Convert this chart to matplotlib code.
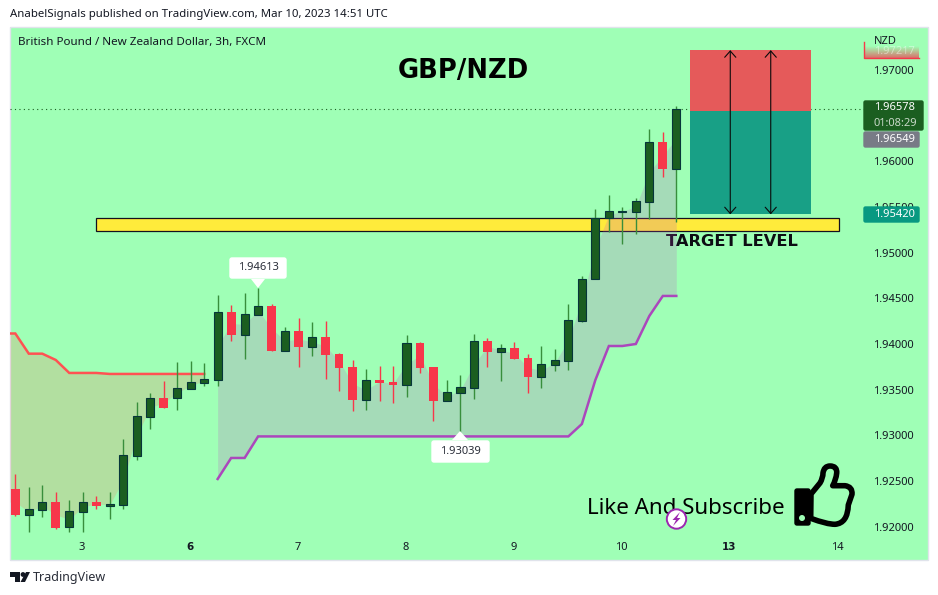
import numpy as np
import matplotlib
matplotlib.use("Agg")
import matplotlib.pyplot as plt
from matplotlib.patches import Rectangle, FancyBboxPatch, Polygon, Circle, PathPatch
from matplotlib.path import Path

plt.rcParams["font.family"] = ["Noto Sans", "DejaVu Sans"]

# 3h candles
opens = [1.92412, 1.92131, 1.92186, 1.92270, 1.91993, 1.92164, 1.92270, 1.92230, 1.92241, 1.92777,
         1.93204, 1.93409, 1.93412, 1.93511, 1.93576, 1.93609, 1.94351, 1.94102, 1.94321, 1.94416,
         1.93927, 1.94143, 1.93971, 1.94077, 1.93891, 1.93748, 1.93390, 1.93606, 1.93584, 1.93555,
         1.94011, 1.93748, 1.93379, 1.93467, 1.93522, 1.94033, 1.93916, 1.93956, 1.93847, 1.93642,
         1.93774, 1.93818, 1.94255, 1.94709, 1.95377, 1.95446, 1.95449, 1.95558, 1.96211, 1.95920]
closes = [1.92128, 1.92190, 1.92267, 1.91989, 1.92168, 1.92267, 1.92230, 1.92248, 1.92781, 1.93208,
          1.93406, 1.93303, 1.93515, 1.93581, 1.93614, 1.94347, 1.94099, 1.94325, 1.94413, 1.93924,
          1.94139, 1.93967, 1.94074, 1.93880, 1.93737, 1.93387, 1.93603, 1.93573, 1.93551, 1.94008,
          1.93737, 1.93376, 1.93471, 1.93526, 1.94030, 1.93913, 1.93953, 1.93836, 1.93639, 1.93778,
          1.93822, 1.94260, 1.94709, 1.95377, 1.95454, 1.95457, 1.95563, 1.96208, 1.95916, 1.96578]
highs = [1.92577, 1.92434, 1.92456, 1.92380, 1.92292, 1.92380, 1.92336, 1.92380, 1.92960, 1.93365,
         1.93464, 1.93595, 1.93803, 1.93814, 1.93792, 1.94537, 1.94427, 1.94559, 1.94613, 1.94438,
         1.94186, 1.94285, 1.94241, 1.94252, 1.93902, 1.93825, 1.93726, 1.93759, 1.93759, 1.94099,
         1.94022, 1.93748, 1.93606, 1.93661, 1.94110, 1.94066, 1.94000, 1.94022, 1.93891, 1.93978,
         1.93945, 1.94438, 1.94745, 1.95479, 1.95630, 1.95501, 1.95599, 1.96354, 1.96321, 1.96606]
lows = [1.92120, 1.91945, 1.92109, 1.91974, 1.91945, 1.91945, 1.92193, 1.92087, 1.92193, 1.92733,
        1.93069, 1.93303, 1.93278, 1.93511, 1.93540, 1.93540, 1.94033, 1.93836, 1.94321, 1.93924,
        1.93927, 1.93748, 1.93869, 1.93617, 1.93486, 1.93267, 1.93278, 1.93376, 1.93354, 1.93420,
        1.93683, 1.93157, 1.93379, 1.93039, 1.93398, 1.93748, 1.93595, 1.93836, 1.93464, 1.93518,
        1.93705, 1.93716, 1.94241, 1.94709, 1.95230, 1.95096, 1.95204, 1.95369, 1.95829, 1.95336]

# supertrend, bars 0-14 are the upper band, bars 15-49 the lower one
upper_band = [1.94115, 1.93894, 1.93894, 1.93825, 1.93683, 1.93683, 1.93683, 1.93672, 1.93672, 1.93672,
              1.93672, 1.93672, 1.93672, 1.93672, 1.93672]
lower_band = [1.92522, 1.92752, 1.92752] + [1.92988] * 24 + [1.93124, 1.93606, 1.93978, 1.93978,
                                                            1.94000, 1.94307, 1.94526, 1.94526]

day_bars = [5, 13, 21, 29, 37, 45, 53, 61]
day_labels = ["3", "6", "7", "8", "9", "10", "13", "14"]
bold_days = ["6", "13"]
price_ticks = [1.92, 1.925, 1.93, 1.935, 1.94, 1.945, 1.95, 1.955, 1.96, 1.97]

zone_low, zone_high = 1.95240, 1.95380
zone_bars = (5.98, 61.05)
pos_top, pos_entry, pos_bottom = 1.97217, 1.96549, 1.95420
pos_bars = (50, 59)
arrow_bars = [53, 56]

GREEN_BG = "#9fffb6"
BODY_GREEN = "#1b5e20"
EDGE_GREEN = "#06363a"
WICK_GREEN = "#388e3c"
RED = "#f7374a"

opens, closes, highs, lows = map(np.array, (opens, closes, highs, lows))
bars = np.arange(len(opens))
mids = (opens + closes) / 2
up = closes >= opens

fig = plt.figure(figsize=(9.38, 5.95), dpi=100, facecolor="white")

# page and panel, in pixels
page = fig.add_axes([0, 0, 1, 1], zorder=0)
page.set_xlim(0, 938)
page.set_ylim(595, 0)
page.axis("off")
page.add_patch(Rectangle((10, 27), 918, 533, fc=GREEN_BG, ec="#e0e3eb", lw=1))

# chart area covers pixels x 10-865, y 27-535
ax = fig.add_axes([10 / 938, 1 - 535 / 595, 855 / 938, 508 / 595], zorder=1)
ax.patch.set_alpha(0)
ax.set_xlim((10 - 15.3) / 13.49, (865 - 15.3) / 13.49)
ax.set_ylim(1.97 - 465 / 9133, 1.97 + 43 / 9133)
for s in ax.spines.values():
    s.set_visible(False)

ax.yaxis.tick_right()
ax.set_yticks(price_ticks)
ax.set_yticklabels([f"{p:.5f}" for p in price_ticks], fontsize=8, color="#131722")
ax.tick_params(axis="y", length=0, pad=6)
ax.set_xticks(np.array(day_bars) - 0.08)
ax.set_xticklabels(day_labels, fontsize=8, color="#131722")
ax.tick_params(axis="x", length=0, pad=5)
for lab in ax.get_xticklabels():
    if lab.get_text() in bold_days:
        lab.set_fontfamily("DejaVu Sans")
        lab.set_fontweight("bold")
        lab.set_fontsize(7.5)

# zone sits under the supertrend fill
ax.add_patch(Rectangle((zone_bars[0], zone_low), zone_bars[1] - zone_bars[0], zone_high - zone_low,
                       fc="#ffeb3b", ec="#14101e", lw=0.9, zorder=1))

# supertrend
split = len(upper_band)
up_x = np.r_[ax.get_xlim()[0], bars[:split]]
up_y = np.r_[upper_band[0], upper_band]
up_mid = np.r_[mids[0], mids[:split]]
ax.fill_between(up_x, up_y, up_mid, color="#ff5f4c", alpha=0.2, lw=0, zorder=2)
ax.plot(up_x, up_y, color="#ff5252", lw=1.8, zorder=3, solid_joinstyle="miter")
ax.fill_between(bars[split:], lower_band, mids[split:], color="#c14bc4", alpha=0.2, lw=0, zorder=2)
ax.plot(bars[split:], lower_band, color="#ab47bc", lw=1.8, zorder=3, solid_joinstyle="miter")

# candles
ax.vlines(bars[up], lows[up], highs[up], color=WICK_GREEN, lw=1, zorder=4)
ax.vlines(bars[~up], lows[~up], highs[~up], color=RED, lw=1, zorder=4)
ax.bar(bars[up], closes[up] - opens[up], bottom=opens[up], width=0.6,
       color=BODY_GREEN, edgecolor=EDGE_GREEN, lw=0.8, zorder=5)
ax.bar(bars[~up], opens[~up] - closes[~up], bottom=closes[~up], width=0.65,
       color=RED, lw=0, zorder=5)

ax.axhline(closes[-1], color=BODY_GREEN, lw=0.8, ls=(0, (1, 3)), zorder=1.5)

# long position box
ax.add_patch(Rectangle((pos_bars[0], pos_entry), pos_bars[1] - pos_bars[0], pos_top - pos_entry,
                       fc="#e55a5a", lw=0, zorder=6))
ax.add_patch(Rectangle((pos_bars[0], pos_bottom), pos_bars[1] - pos_bars[0], pos_entry - pos_bottom,
                       fc="#18a086", lw=0, zorder=6))
for bx in arrow_bars:
    ax.annotate("", xy=(bx, pos_top), xytext=(bx, pos_bottom), zorder=7,
                arrowprops=dict(arrowstyle="<->,head_length=0.45,head_width=0.4", color="#0a0a0a",
                                lw=0.8, shrinkA=0, shrinkB=0))

# text on the chart
page.text(463, 71, "GBP/NZD", fontsize=18.6, fontweight="bold", family="DejaVu Sans", color="black",
          ha="center", va="center")
page.text(732, 241, "TARGET LEVEL", fontsize=11.7, fontweight="bold", family="DejaVu Sans", color="#0d0d14",
          ha="center", va="center")
page.text(587, 508, "Like And Subscribe", fontsize=16.1, color="black", ha="left", va="center", zorder=8)
page.text(10, 14.5, "AnabelSignals published on TradingView.com, Mar 10, 2023 14:51 UTC", fontsize=8.2,
          color="#131722", ha="left", va="center")
page.text(18, 42, "British Pound / New Zealand Dollar, 3h, FXCM", fontsize=8.35,
          color="#131722", ha="left", va="center")

# top layer for tags, callouts and icons, in pixels
top = fig.add_axes([0, 0, 1, 1], zorder=3)
top.set_xlim(0, 938)
top.set_ylim(595, 0)
top.axis("off")


def tag(x0, y0, x1, y1, color):
    top.add_patch(FancyBboxPatch((x0, y0 + 1), x1 - x0 - 1, y1 - y0 - 2, boxstyle="round,pad=0,rounding_size=1.5",
                                 fc=color, ec=color, lw=1))


def price_text(x, y, s, color="white"):
    top.text(x, y, s, fontsize=8, color=color, ha="left", va="center")


# cut off position label under NZD
grad = np.linspace(0, 1, 20).reshape(-1, 1, 1) * np.array([0.85, 0.45, 0.42]).reshape(1, 1, 3) \
    + np.linspace(1, 0, 20).reshape(-1, 1, 1) * np.array([0.62, 1.0, 0.71]).reshape(1, 1, 3)
top.imshow(grad, extent=(864, 919, 58, 46), aspect="auto", zorder=1)
top.set_xlim(0, 938)
top.set_ylim(595, 0)
top.plot([864, 864, 919], [42, 58, 58], color=RED, lw=1, zorder=2)
top.text(874, 41, "NZD", fontsize=8, color="#131722", ha="left", va="center", zorder=3)
cut = top.text(874, 52, "1.97217", fontsize=8, color="white", alpha=0.45, ha="left", va="center", zorder=2)
cut.set_clip_path(Rectangle((864, 52), 55, 6, transform=top.transData))

tag(864, 100, 924, 131, BODY_GREEN)
price_text(874, 108, "1.96578")
price_text(873.5, 123, "01:08:29", "#c8d8c8")
tag(864, 131, 920, 148, "#787b86")
price_text(874, 139.5, "1.96549")
tag(864, 206, 920, 223, "#089981")
price_text(874, 214.5, "1.95420")

# high and low callouts
for box, tip, s in [((229, 257, 287, 279), [(251, 279), (258, 288), (265, 279)], "1.94613"),
                    ((431, 440, 490, 463), [(452, 440), (460, 431), (468, 440)], "1.93039")]:
    x0, y0, x1, y1 = box
    top.add_patch(FancyBboxPatch((x0 + 1, y0 + 1), x1 - x0 - 2, y1 - y0 - 2,
                                 boxstyle="round,pad=0,rounding_size=2", fc="white", ec="white", lw=1))
    top.add_patch(Polygon(tip, fc="white", ec="none"))
    top.text((x0 + x1) / 2, (y0 + y1) / 2, s, fontsize=8, color="#2a2e39", ha="center", va="center")

# bolt badge
top.add_patch(Circle((676.5, 519), 9.7, fc="white", ec="#9c27b0", lw=1.4))
top.add_patch(Polygon([(680, 512), (672.5, 520), (676, 520), (673, 526), (680.5, 518), (677, 518)],
                      fc="#9c27b0", ec="none"))

# thumbs up
hand_verts = [(811, 494), (820, 483), (823, 478), (823, 473), (824, 466), (830, 466), (837.3, 466), (836.7, 473),
              (836, 480), (832.7, 485.7), (845, 485.7), (852.7, 486.7), (852, 494.3), (848.3, 505),
              (847.7, 523.3), (835, 524.3), (826.7, 524.3), (810.7, 518.3), (811, 494)]
hand_codes = [Path.MOVETO, Path.LINETO, Path.CURVE3, Path.CURVE3, Path.CURVE3, Path.CURVE3, Path.CURVE3, Path.CURVE3,
              Path.CURVE3, Path.CURVE3, Path.LINETO, Path.CURVE3, Path.CURVE3, Path.LINETO,
              Path.CURVE3, Path.CURVE3, Path.CURVE3, Path.CURVE3, Path.CLOSEPOLY]
top.add_patch(PathPatch(Path(hand_verts, hand_codes), fc=GREEN_BG, ec="black", lw=4, joinstyle="round"))
top.add_patch(FancyBboxPatch((795, 489), 15, 36, boxstyle="round,pad=0,rounding_size=2", fc="black", ec="black", lw=1))
top.add_patch(Circle((802, 518), 3, fc=GREEN_BG, ec="none"))

# footer logo
top.add_patch(Polygon([(10, 572), (20, 572), (20, 582), (15, 582), (15, 577), (10, 577)], fc="#131722", ec="none"))
top.add_patch(Circle((23, 574.5), 2.4, fc="#131722", ec="none"))
top.add_patch(Polygon([(26, 572), (30, 572), (25, 582), (20.5, 582)], fc="#131722", ec="none"))
top.text(33, 577, "TradingView", fontsize=9, color="#2a2e39", ha="left", va="center")

fig.savefig("out.png", dpi=100)
